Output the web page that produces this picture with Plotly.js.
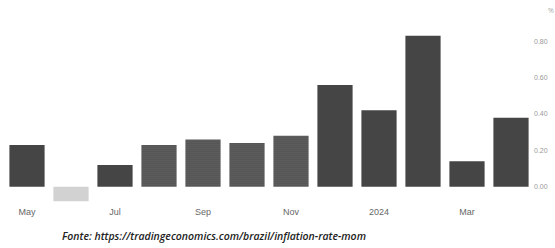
<!DOCTYPE html>
<html><head><meta charset="utf-8">
<script src="https://cdn.plot.ly/plotly-3.0.1.min.js"></script>
<style>html,body{margin:0;padding:0;background:#fff;}#c{width:555px;height:248px;}</style>
</head><body><div id="c"></div>
<script>
const months = ["2023-05","2023-06","2023-07","2023-08","2023-09","2023-10","2023-11","2023-12","2024-01","2024-02","2024-03","2024-04"];
const values = [0.23,-0.08,0.12,0.23,0.26,0.24,0.28,0.56,0.42,0.83,0.14,0.38];
const tickMonths = ["2023-05","2023-07","2023-09","2023-11","2024-01","2024-03"];
const tickLabels = ["May","Jul","Sep","Nov","2024","Mar"];
const yTicks = [0,0.2,0.4,0.6,0.8];
const yTickLabels = ["0.00","0.20","0.40","0.60","0.80"];
const sourceText = "Fonte: https://tradingeconomics.com/brazil/inflation-rate-mom";

const colors = values.map(v => v < 0 ? "#d2d2d2" : "#454545");
const shapes = months.map((m,i) => (i>=3 && i<=6) ? "." : "");

Plotly.newPlot("c", [{
  type: "bar", x: months, y: values,
  marker: {color: colors, line: {width: 0},
    pattern: {shape: shapes, fgcolor: "#8a8a8a", size: 2, solidity: 0.25, fillmode: "overlay"}},
  hoverinfo: "skip"
}], {
  width: 555, height: 248,
  margin: {l: 5, r: 22, t: 23, b: 43},
  paper_bgcolor: "#fff", plot_bgcolor: "#fff",
  bargap: 0.2,
  showlegend: false,
  xaxis: {type: "category", tickvals: tickMonths, ticktext: tickLabels, showgrid: false,
    zeroline: false, showline: false, ticks: "", tickfont: {family: "Liberation Sans Narrow, Arial Narrow, sans-serif", size: 9, color: "#666"}},
  yaxis: {side: "right", range: [-0.1, 0.9], tickvals: yTicks, ticktext: yTickLabels,
    showgrid: false, zeroline: false, showline: false, ticks: "",
    tickfont: {family: "Liberation Sans Narrow, sans-serif", size: 7, color: "#999"}},
  annotations: [
    {text: sourceText, xref: "paper", yref: "paper", x: 0.105, y: -0.17, xanchor: "left", yanchor: "middle",
     showarrow: false, font: {family: "Open Sans, sans-serif", size: 10.5, color: "#222", style: "italic", weight: 600}},
    {text: "%", xref: "paper", yref: "paper", x: 1.035, y: 1.07, xanchor: "center", yanchor: "middle",
     showarrow: false, font: {size: 7, color: "#aaa"}}
  ]
}, {displayModeBar: false, staticPlot: true});
</script></body></html>
